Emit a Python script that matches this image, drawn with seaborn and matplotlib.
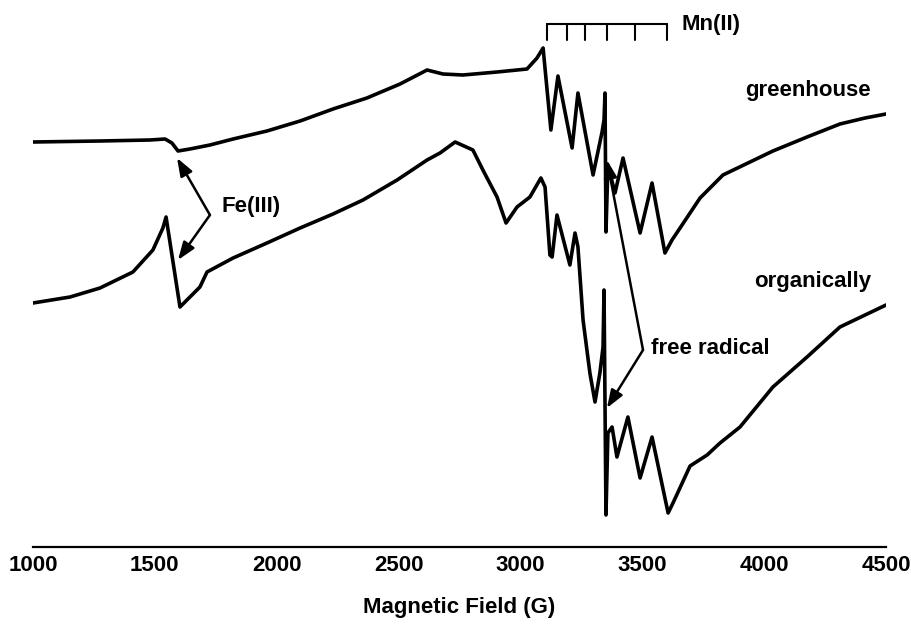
import matplotlib
matplotlib.use("Agg")
import matplotlib.pyplot as plt
import numpy as np
import pandas as pd
import seaborn as sns
from matplotlib.ticker import MultipleLocator

# ---- data (field in G, signal in arbitrary units) ----
gh_field = [1000, 1275, 1480, 1542, 1570, 1595, 1644, 1726, 1821, 1960, 2096, 2231,
            2370, 2506, 2617, 2682, 2764, 2904, 3027, 3068, 3093, 3125, 3154, 3212,
            3236, 3298, 3335, 3343, 3347, 3351, 3359, 3388, 3421, 3491, 3540, 3593,
            3622, 3655, 3737, 3831, 3942, 4036, 4176, 4311, 4414, 4500]
gh_signal = [405, 406, 407, 408, 404, 396, 398, 402, 408, 416, 426, 438,
             449, 463, 477, 473, 472, 475, 478, 489, 499, 417, 471, 399,
             454, 372, 415, 427, 454, 315, 382, 354, 389, 314, 364, 294,
             307, 319, 349, 372, 385, 396, 410, 423, 429, 433]

org_field = [1000, 1152, 1275, 1410, 1492, 1533, 1546, 1603, 1644, 1685, 1714, 1821,
             1960, 2096, 2231, 2354, 2494, 2617, 2670, 2732, 2805, 2846, 2904, 2941,
             2986, 3039, 3084, 3101, 3121, 3130, 3150, 3203, 3224, 3236, 3257, 3285,
             3306, 3326, 3339, 3343, 3351, 3359, 3376, 3396, 3441, 3491, 3540, 3606,
             3626, 3696, 3766, 3819, 3901, 4036, 4176, 4311, 4500]
org_signal = [244, 250, 259, 275, 297, 319, 330, 240, 250, 260, 275, 289,
              304, 319, 333, 347, 367, 387, 394, 405, 397, 377, 350, 324,
              340, 350, 369, 360, 292, 290, 332, 282, 314, 300, 227, 174,
              145, 174, 200, 257, 32, 114, 120, 90, 130, 69, 110, 34,
              44, 81, 92, 104, 120, 160, 190, 220, 242]

mn_lines = [3109, 3191, 3265, 3355, 3470, 3602]
x_ticks = [1000, 1500, 2000, 2500, 3000, 3500, 4000, 4500]

sample_names = ["greenhouse", "organically"]

df = pd.concat([
    pd.DataFrame({"field": gh_field, "signal": gh_signal, "sample": sample_names[0]}),
    pd.DataFrame({"field": org_field, "signal": org_signal, "sample": sample_names[1]}),
], ignore_index=True)

sns.set_style("white")
plt.rcParams["font.family"] = ["Liberation Sans", "DejaVu Sans"]
plt.rcParams["font.weight"] = "bold"
plt.rcParams["text.color"] = "black"
plt.rcParams["axes.labelcolor"] = "black"
plt.rcParams["xtick.color"] = "black"

fig = plt.figure(figsize=(9.12, 6.24), dpi=100)
ax = fig.add_axes([33 / 912, 77 / 624, 853 / 912, 537 / 624])

sns.lineplot(data=df, x="field", y="signal", hue="sample", units="sample",
             palette=["black", "black"], estimator=None, sort=False,
             legend=False, lw=2.6, ax=ax)

ax.set_xlim(1000, 4500)
ax.set_ylim(0, 537)

for s in ["left", "top", "right"]:
    ax.spines[s].set_visible(False)
ax.spines["bottom"].set_linewidth(1.6)
ax.spines["bottom"].set_color("black")

ax.set_yticks([])
ax.set_ylabel("")
ax.set_xticks(x_ticks)
ax.set_xticklabels([str(v) for v in x_ticks])
ax.xaxis.set_minor_locator(MultipleLocator(250))
ax.tick_params(axis="x", which="major", direction="in", length=8, width=1.5,
               labelsize=16, pad=6, colors="black", labelcolor="black")
ax.tick_params(axis="x", which="minor", direction="in", length=3.6, width=1.5,
               colors="black")
for t in ax.get_xticklabels():
    t.set_fontweight("bold")
    t.set_color("black")
ax.set_xlabel("Magnetic Field (G)", fontsize=16, fontweight="bold", labelpad=15,
              color="black")

# Mn(II) hyperfine comb
ax.plot([mn_lines[0], mn_lines[-1]], [523, 523], color="black", lw=1.5)
for m in mn_lines:
    ax.plot([m, m], [523, 507], color="black", lw=1.5)

# labels
tkw = dict(fontsize=16, fontweight="bold", va="baseline", ha="center", color="black")
ax.text(4180, 451, "greenhouse", **tkw)
ax.text(4201, 260, "organically", **tkw)
ax.text(3778, 193, "free radical", **tkw)
ax.text(1895, 335, "Fe(III)", **tkw)
ax.text(3782, 517, "Mn(II)", **tkw)

akw = dict(arrowstyle="-|>,head_length=0.6,head_width=0.22", lw=1.8,
           color="black", shrinkA=0, shrinkB=0, mutation_scale=18)
ax.annotate("", xy=(1591, 389), xytext=(1726, 332), arrowprops=akw)
ax.annotate("", xy=(1595, 287), xytext=(1726, 332), arrowprops=akw)
ax.annotate("", xy=(3355, 387), xytext=(3503, 197), arrowprops=akw)
ax.annotate("", xy=(3355, 139), xytext=(3503, 197), arrowprops=akw)

fig.savefig("out.png", dpi=100)
